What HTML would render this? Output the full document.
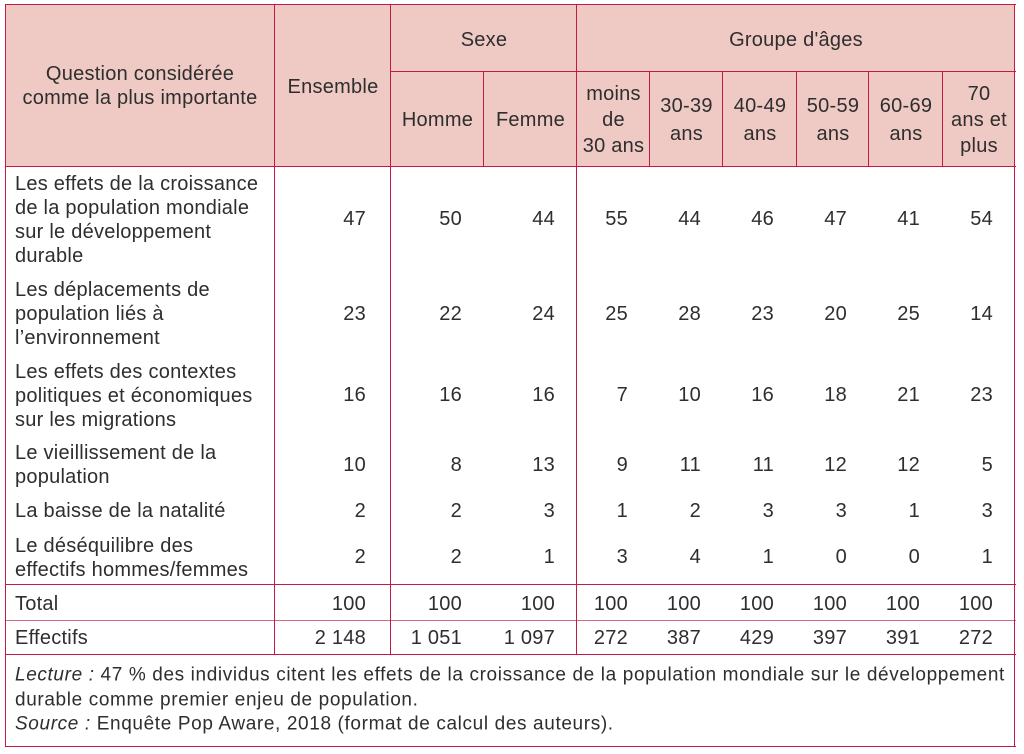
<!DOCTYPE html>
<html><head><meta charset="utf-8"><style>
html,body{margin:0;padding:0;background:#fff;width:1024px;height:754px;overflow:hidden}
body{position:relative;font-family:"Liberation Sans",sans-serif;color:#2e2e2e;font-size:20px;letter-spacing:0.25px}
.hb{position:absolute;left:5px;top:4px;width:1010px;height:163px;background:#efc9c3}
.h{position:absolute;background:#c51845;height:1.2px}
.v{position:absolute;background:#c51845;width:1.2px}
.t{position:absolute;line-height:24px;transform:translateY(-50%);white-space:nowrap}
.c{text-align:center}
.r{text-align:right}
.n{font-size:19px;line-height:24.5px;letter-spacing:0.63px}
</style></head><body>
<div class="hb"></div>
<div class="h" style="left:5px;top:4px;width:1011px"></div>
<div class="h" style="left:390px;top:71px;width:626px"></div>
<div class="h" style="left:5px;top:166px;width:1011px"></div>
<div class="h" style="left:5px;top:584px;width:1011px"></div>
<div class="h" style="left:5px;top:620px;width:1011px;background:#d46a85"></div>
<div class="h" style="left:5px;top:654px;width:1011px"></div>
<div class="h" style="left:5px;top:746px;width:1011px"></div>
<div class="v" style="left:5px;top:4px;height:743px"></div>
<div class="v" style="left:1014px;top:4px;height:743px"></div>
<div class="v" style="left:274px;top:4px;height:651px"></div>
<div class="v" style="left:390px;top:4px;height:651px"></div>
<div class="v" style="left:576px;top:4px;height:651px"></div>
<div class="v" style="left:483px;top:71px;height:96px"></div>
<div class="v" style="left:649px;top:71px;height:96px"></div>
<div class="v" style="left:722px;top:71px;height:96px"></div>
<div class="v" style="left:796px;top:71px;height:96px"></div>
<div class="v" style="left:868px;top:71px;height:96px"></div>
<div class="v" style="left:942px;top:71px;height:96px"></div>

<div class="t c" style="left:5px;width:270px;top:86px">Question considérée<br>comme la plus importante</div>
<div class="t c" style="left:275px;width:116px;top:87px">Ensemble</div>
<div class="t c" style="left:391px;width:186px;top:40px">Sexe</div>
<div class="t c" style="left:577px;width:438px;top:40px">Groupe d'âges</div>
<div class="t c" style="left:391px;width:93px;top:120px">Homme</div>
<div class="t c" style="left:484px;width:93px;top:120px">Femme</div>
<div class="t c" style="left:577px;width:73px;top:120px;line-height:26px">moins<br>de<br>30 ans</div>
<div class="t c" style="left:650px;width:73px;top:120px;line-height:28px">30-39<br>ans</div>
<div class="t c" style="left:723px;width:74px;top:120px;line-height:28px">40-49<br>ans</div>
<div class="t c" style="left:797px;width:72px;top:120px;line-height:28px">50-59<br>ans</div>
<div class="t c" style="left:869px;width:74px;top:120px;line-height:28px">60-69<br>ans</div>
<div class="t c" style="left:943px;width:72px;top:120px;line-height:26px">70<br>ans et<br>plus</div>

<div class="t" style="left:15px;top:220px">Les effets de la croissance<br>de la population mondiale<br>sur le développement<br>durable</div>
<div class="t" style="left:15px;top:314px">Les déplacements de<br>population liés à<br>l’environnement</div>
<div class="t" style="left:15px;top:396px">Les effets des contextes<br>politiques et économiques<br>sur les migrations</div>
<div class="t" style="left:15px;top:465px">Le vieillissement de la<br>population</div>
<div class="t" style="left:15px;top:511px">La baisse de la natalité</div>
<div class="t" style="left:15px;top:558px">Le déséquilibre des<br>effectifs hommes/femmes</div>
<div class="t" style="left:15px;top:604px">Total</div>
<div class="t" style="left:15px;top:638px">Effectifs</div>

<div class="t r" style="left:266px;width:100px;top:219px">47</div><div class="t r" style="left:362px;width:100px;top:219px">50</div><div class="t r" style="left:455px;width:100px;top:219px">44</div><div class="t r" style="left:528px;width:100px;top:219px">55</div><div class="t r" style="left:601px;width:100px;top:219px">44</div><div class="t r" style="left:674px;width:100px;top:219px">46</div><div class="t r" style="left:747px;width:100px;top:219px">47</div><div class="t r" style="left:820px;width:100px;top:219px">41</div><div class="t r" style="left:893px;width:100px;top:219px">54</div>
<div class="t r" style="left:266px;width:100px;top:314px">23</div><div class="t r" style="left:362px;width:100px;top:314px">22</div><div class="t r" style="left:455px;width:100px;top:314px">24</div><div class="t r" style="left:528px;width:100px;top:314px">25</div><div class="t r" style="left:601px;width:100px;top:314px">28</div><div class="t r" style="left:674px;width:100px;top:314px">23</div><div class="t r" style="left:747px;width:100px;top:314px">20</div><div class="t r" style="left:820px;width:100px;top:314px">25</div><div class="t r" style="left:893px;width:100px;top:314px">14</div>
<div class="t r" style="left:266px;width:100px;top:395px">16</div><div class="t r" style="left:362px;width:100px;top:395px">16</div><div class="t r" style="left:455px;width:100px;top:395px">16</div><div class="t r" style="left:528px;width:100px;top:395px">7</div><div class="t r" style="left:601px;width:100px;top:395px">10</div><div class="t r" style="left:674px;width:100px;top:395px">16</div><div class="t r" style="left:747px;width:100px;top:395px">18</div><div class="t r" style="left:820px;width:100px;top:395px">21</div><div class="t r" style="left:893px;width:100px;top:395px">23</div>
<div class="t r" style="left:266px;width:100px;top:465px">10</div><div class="t r" style="left:362px;width:100px;top:465px">8</div><div class="t r" style="left:455px;width:100px;top:465px">13</div><div class="t r" style="left:528px;width:100px;top:465px">9</div><div class="t r" style="left:601px;width:100px;top:465px">11</div><div class="t r" style="left:674px;width:100px;top:465px">11</div><div class="t r" style="left:747px;width:100px;top:465px">12</div><div class="t r" style="left:820px;width:100px;top:465px">12</div><div class="t r" style="left:893px;width:100px;top:465px">5</div>
<div class="t r" style="left:266px;width:100px;top:511px">2</div><div class="t r" style="left:362px;width:100px;top:511px">2</div><div class="t r" style="left:455px;width:100px;top:511px">3</div><div class="t r" style="left:528px;width:100px;top:511px">1</div><div class="t r" style="left:601px;width:100px;top:511px">2</div><div class="t r" style="left:674px;width:100px;top:511px">3</div><div class="t r" style="left:747px;width:100px;top:511px">3</div><div class="t r" style="left:820px;width:100px;top:511px">1</div><div class="t r" style="left:893px;width:100px;top:511px">3</div>
<div class="t r" style="left:266px;width:100px;top:557px">2</div><div class="t r" style="left:362px;width:100px;top:557px">2</div><div class="t r" style="left:455px;width:100px;top:557px">1</div><div class="t r" style="left:528px;width:100px;top:557px">3</div><div class="t r" style="left:601px;width:100px;top:557px">4</div><div class="t r" style="left:674px;width:100px;top:557px">1</div><div class="t r" style="left:747px;width:100px;top:557px">0</div><div class="t r" style="left:820px;width:100px;top:557px">0</div><div class="t r" style="left:893px;width:100px;top:557px">1</div>
<div class="t r" style="left:266px;width:100px;top:604px">100</div><div class="t r" style="left:362px;width:100px;top:604px">100</div><div class="t r" style="left:455px;width:100px;top:604px">100</div><div class="t r" style="left:528px;width:100px;top:604px">100</div><div class="t r" style="left:601px;width:100px;top:604px">100</div><div class="t r" style="left:674px;width:100px;top:604px">100</div><div class="t r" style="left:747px;width:100px;top:604px">100</div><div class="t r" style="left:820px;width:100px;top:604px">100</div><div class="t r" style="left:893px;width:100px;top:604px">100</div>
<div class="t r" style="left:266px;width:100px;top:638px">2 148</div><div class="t r" style="left:362px;width:100px;top:638px">1 051</div><div class="t r" style="left:455px;width:100px;top:638px">1 097</div><div class="t r" style="left:528px;width:100px;top:638px">272</div><div class="t r" style="left:601px;width:100px;top:638px">387</div><div class="t r" style="left:674px;width:100px;top:638px">429</div><div class="t r" style="left:747px;width:100px;top:638px">397</div><div class="t r" style="left:820px;width:100px;top:638px">391</div><div class="t r" style="left:893px;width:100px;top:638px">272</div>

<div class="t n" style="left:15px;top:700px"><i>Lecture :</i> 47 % des individus citent les effets de la croissance de la population mondiale sur le développement<br>durable comme premier enjeu de population.<br><i>Source :</i> Enquête Pop Aware, 2018 (format de calcul des auteurs).</div>
</body></html>
